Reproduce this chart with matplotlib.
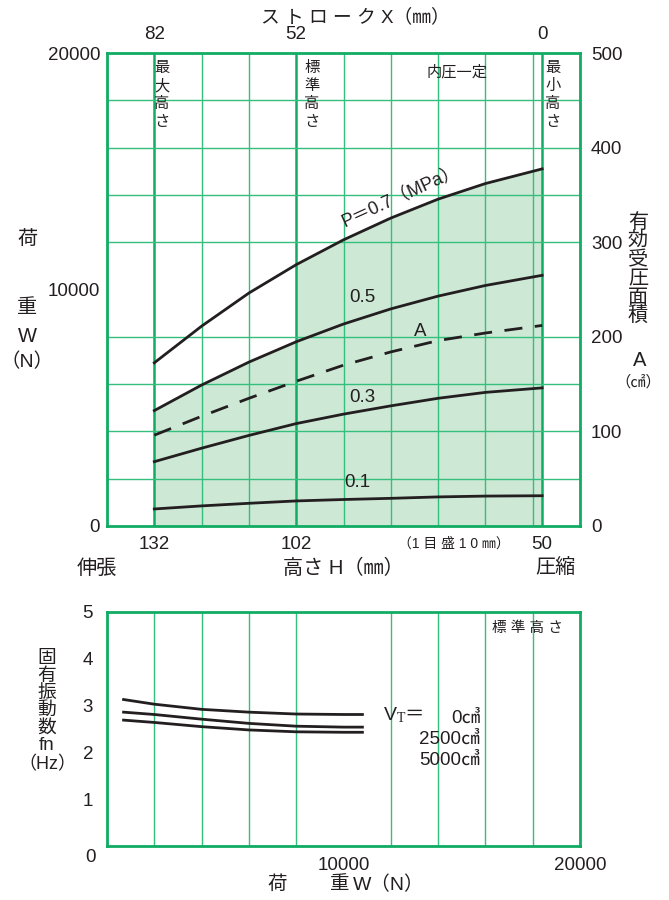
import numpy as np
import matplotlib
matplotlib.use('Agg')
import matplotlib.pyplot as plt

plt.rcParams['font.family'] = ['Liberation Sans', 'Noto Sans CJK JP', 'DejaVu Sans']

# top chart: load W (N) vs height H (mm) for each pressure, and effective area A
height = [132, 122, 112, 102, 92, 82, 72, 62, 50]
load_07 = [6900, 8450, 9850, 11050, 12100, 13020, 13820, 14480, 15100]
load_05 = [4880, 5960, 6930, 7790, 8540, 9180, 9720, 10170, 10600]
load_03 = [2720, 3290, 3830, 4330, 4730, 5080, 5400, 5650, 5840]
load_01 = [720, 850, 960, 1060, 1120, 1170, 1230, 1265, 1280]
area = [96, 116, 135, 153, 170, 184, 196, 204, 212]

# bottom chart: natural frequency vs load for tank volumes
fn_load = [700, 2000, 4000, 6000, 8000, 10000, 10800]
fn_0 = [3.13, 3.03, 2.92, 2.86, 2.82, 2.81, 2.81]
fn_2500 = [2.86, 2.81, 2.71, 2.62, 2.56, 2.54, 2.54]
fn_5000 = [2.69, 2.64, 2.55, 2.48, 2.44, 2.43, 2.43]

W, H = 669, 900
SPINE = '#10ac64'
GRID = '#34c07c'
FILL = '#cde8d5'
INK = '#231f20'

fig = plt.figure(figsize=(W / 100, H / 100), dpi=100)


def fx(x):
    return x / W


def fy(y):
    return 1 - y / H


def txt(x, y, s, size=13, **kw):
    kw.setdefault('ha', 'center')
    kw.setdefault('va', 'center')
    fig.text(fx(x), fy(y), s, fontsize=size, color=INK, **kw)


def vtext(chars, x, y0, step, size):
    for i, c in enumerate(chars):
        txt(x, y0 + i * step, c, size)


# ---------- top chart ----------
ax = fig.add_axes([fx(107), fy(526), (580 - 107) / W, (526 - 53) / H])
ax.set_xlim(142, 42)
ax.set_ylim(0, 20000)
ax.set_xticks(np.arange(142, 41, -10), minor=True)
ax.set_yticks(np.arange(0, 20001, 2000), minor=True)
ax.grid(which='minor', color=GRID, lw=1.0)
for h in [132, 102, 50]:
    ax.axvline(h, color=SPINE, lw=1.8, zorder=1.5)
for s in ax.spines.values():
    s.set_color(SPINE)
    s.set_linewidth(2)

h_arr = np.array(height)
ax.fill_between(h_arr[:4], 0, np.array(load_05)[:4], color=FILL, lw=0, zorder=0.5)
ax.fill_between(h_arr[3:], 0, np.array(load_07)[3:], color=FILL, lw=0, zorder=0.5)

for ys in [load_07, load_05, load_03, load_01]:
    ax.plot(height, ys, color=INK, lw=2.0, zorder=3, solid_joinstyle='round')

ax.set_xticks([132, 102, 50])
ax.set_xticklabels(['132', '102', '50'])
ax.set_yticks([0, 10000, 20000])
ax.set_yticklabels(['0', '10000', '20000'])
ax.tick_params(axis='x', which='both', length=0, labelsize=13.5, pad=7, colors=INK)
ax.tick_params(axis='y', which='both', length=0, labelsize=13.5, pad=5, colors=INK)

ax2 = ax.twinx()
ax2.set_ylim(0, 500)
ax2.plot(height, area, color=INK, lw=2.0, ls=(0, (6.5, 4.5)), zorder=3)
ax2.set_yticks(np.arange(0, 501, 100))
ax2.tick_params(length=0, labelsize=13.5, pad=8, colors=INK)
for s in ax2.spines.values():
    s.set_visible(False)

top = ax.secondary_xaxis('top', functions=(lambda h: h - 50, lambda x: x + 50))
top.set_xticks([82, 52, 0])
top.tick_params(length=0, labelsize=13.5, pad=7, colors=INK)
top.spines['top'].set_visible(False)

# curve labels
txt(401, 197, 'P＝0.7（MPa）', 13, rotation=24.5)
txt(362, 297, '0.5', 13.5)
txt(420, 331, 'A', 13.5)
txt(362, 397, '0.3', 13.5)
txt(357, 483, '0.1', 13.5)

vtext('最大高さ', 162, 68, 18, 11)
vtext('標準高さ', 312, 68, 18, 11)
vtext('最小高さ', 553, 68, 18, 11)
txt(457, 72, '内圧一定', 11)

txt(355, 17, 'ス ト ロ ー ク X（㎜）', 13.5)
txt(454, 544, '（1 目 盛 1 0 ㎜）', 10)
txt(97, 568, '伸張', 14.5)
txt(343, 568, '高さ H（㎜）', 14.5)
txt(555, 568, '圧縮', 14.5)

txt(27, 240, '荷', 14.5)
txt(27, 307, '重', 14.5)
txt(27, 337, 'W', 14.5)
txt(27, 362, '（N）', 14)

vtext('有効受圧面積', 638, 223, 18.6, 14.5)
txt(640, 361, 'A', 14.5)
txt(638, 382, '（㎠）', 11)

# ---------- bottom chart ----------
bx = fig.add_axes([fx(107), fy(846), (580 - 107) / W, (846 - 612) / H])
bx.set_xlim(0, 20000)
bx.set_ylim(0, 5)
bx.set_xticks(np.arange(0, 20001, 2000), minor=True)
bx.set_yticks(np.arange(0, 6, 1), minor=True)
bx.grid(which='minor', color=GRID, lw=1.0)
for s in bx.spines.values():
    s.set_color(SPINE)
    s.set_linewidth(2)
for ys in [fn_0, fn_2500, fn_5000]:
    bx.plot(fn_load, ys, color=INK, lw=2.0, zorder=3, solid_joinstyle='round')
bx.set_xticks([10000, 20000])
bx.set_xticklabels(['10000', '20000'])
bx.set_yticks([1, 2, 3, 4, 5])
bx.tick_params(axis='x', which='both', length=0, labelsize=13.5, pad=8, colors=INK)
bx.tick_params(axis='y', which='both', length=0, labelsize=13.5, pad=10, colors=INK)
txt(90, 858, '0', 13.5)

txt(527, 628, '標 準 高 さ', 10.5)
txt(390, 716, 'V', 14)
txt(401, 718, 'T', 10, family='Liberation Serif')
txt(414, 715, '＝', 14)
txt(480, 718, '0㎤', 13.5, ha='right')
txt(480, 739, '2500㎤', 13.5, ha='right')
txt(480, 760, '5000㎤', 13.5, ha='right')

vtext('固有振動数', 47, 659, 17.2, 13.5)
txt(47, 745, 'fn', 13.5)
txt(47, 765, '（Hz）', 13)
txt(277, 885, '荷', 14)
txt(340, 885, '重', 14)
txt(353, 885, 'W（N）', 14, ha='left')

fig.savefig('out.png', dpi=100)
